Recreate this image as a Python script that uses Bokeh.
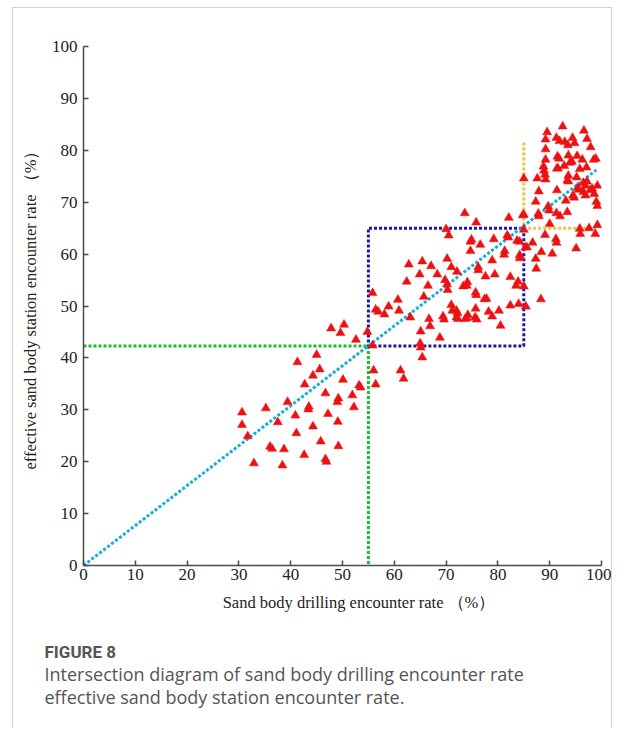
from bokeh.plotting import figure
from bokeh.models import Range1d, FixedTicker, Title
from bokeh.embed import file_html
from bokeh.resources import INLINE

# ---- data ----
drill_rate = [
    30.6, 30.6, 31.7, 32.9, 35.2, 36.0, 36.4, 37.5, 38.4, 38.7, 39.4, 40.9, 41.1, 41.3, 42.6, 42.7,
    43.4, 43.5, 44.3, 44.3, 45.0, 45.6, 45.8, 46.7, 46.7, 46.9, 47.2, 47.8, 49.0, 49.2, 49.1, 49.2,
    49.6, 50.1, 50.3, 51.9, 52.2, 52.6, 53.2, 53.5, 54.8, 55.8, 56.0, 56.4,
    55.8, 56.4, 56.9, 58.1, 58.9, 60.7, 60.9, 61.2, 61.8, 62.4, 62.8, 63.1, 64.9, 65.0, 65.1, 65.1,
    65.4, 65.4, 65.7, 66.5, 66.7, 66.9, 67.1, 68.3, 68.8, 69.4, 69.6, 70.0, 70.5, 69.8, 70.2, 70.2,
    70.3, 71.0, 71.0, 71.2, 72.0, 72.1, 72.2, 72.0, 72.3, 73.3, 73.6, 73.7, 74.1, 74.0, 74.2, 74.0,
    74.7, 74.9, 74.7, 75.7, 75.8, 75.7, 75.9, 75.6, 75.8, 76.2, 76.2, 76.6, 77.6, 77.4, 77.8, 78.2,
    78.9, 78.9, 79.2, 79.4, 80.2, 80.5, 81.3, 81.2, 81.8, 82.0, 82.1, 82.4, 82.4, 83.5, 83.7, 83.9,
    84.0, 84.2, 84.2, 84.2, 84.8, 85.0, 85.0, 85.3, 85.4, 85.6,
    85.0, 85.0, 86.7, 87.3, 87.3, 87.4, 87.6, 87.9, 87.8, 87.9, 88.3, 88.4, 88.8, 88.9, 89.1, 89.2,
    89.1, 89.2, 89.2, 89.2, 89.5, 89.7, 89.9, 90.0, 90.5, 91.2, 91.3, 91.3, 91.4, 91.4, 91.6, 91.3,
    91.9, 91.5, 91.8, 92.0, 92.5, 92.9, 93.1, 93.4, 93.6, 93.6, 93.4, 93.5, 93.6, 92.8, 93.9, 94.3,
    94.4, 94.5, 94.7, 94.8, 95.1, 95.2, 95.3, 95.4, 95.6, 95.8, 95.8, 95.9, 96.3, 96.5, 96.5, 96.6,
    96.9, 96.9, 97.1, 97.2, 97.2, 97.6, 97.9, 97.8, 98.2, 98.5, 98.6, 98.8, 99.0, 99.2, 99.2, 99.2,
    98.9,
]
station_rate = [
    29.5, 27.1, 24.9, 19.7, 30.3, 22.9, 22.5, 27.6, 19.3, 22.4, 31.5, 28.9, 25.5, 39.2, 21.3, 34.9,
    30.1, 30.6, 36.6, 26.8, 40.6, 37.8, 23.9, 33.2, 20.5, 20.0, 29.2, 45.7, 31.5, 32.2, 27.7, 23.0,
    44.8, 35.8, 46.4, 32.8, 30.5, 43.5, 34.7, 34.3, 45.0, 42.4, 37.6, 34.9,
    52.5, 49.3, 48.9, 48.4, 49.9, 51.2, 49.1, 37.6, 36.0, 54.7, 58.0, 47.8, 56.1, 42.8, 42.0, 45.1,
    58.6, 40.1, 51.8, 53.9, 47.5, 46.1, 57.7, 56.1, 43.9, 48.0, 47.4, 64.8, 63.6, 55.0, 54.2, 59.1,
    53.1, 57.5, 50.2, 49.1, 49.1, 56.6, 48.6, 47.8, 47.5, 53.8, 67.9, 47.5, 54.6, 53.9, 48.3, 47.7,
    62.4, 62.8, 60.6, 52.6, 52.1, 49.5, 47.4, 47.8, 66.1, 57.5, 56.9, 61.8, 55.7, 51.3, 51.4, 48.9,
    58.8, 48.0, 62.9, 56.1, 49.1, 46.2, 60.6, 59.9, 63.6, 63.2, 67.0, 55.6, 50.1, 53.9, 62.6, 54.7,
    50.4, 59.8, 59.2, 62.4, 67.5, 64.7, 53.8, 61.3, 49.9, 61.3,
    74.6, 67.6, 62.2, 70.1, 59.1, 57.2, 74.6, 72.1, 67.8, 67.3, 51.3, 60.4, 76.9, 76.1, 75.3, 74.4,
    63.7, 82.1, 80.2, 78.2, 83.5, 69.2, 68.4, 65.8, 60.1, 62.9, 62.2, 67.9, 72.3, 76.5, 76.5, 82.4,
    81.8, 78.8, 78.4, 67.3, 84.6, 81.6, 70.3, 74.2, 74.0, 75.1, 68.1, 81.0, 79.0, 77.0, 77.6, 77.8,
    82.4, 71.3, 70.9, 81.4, 61.1, 74.8, 78.9, 72.8, 72.4, 76.4, 64.9, 63.9, 78.2, 72.0, 73.7, 83.8,
    71.3, 73.2, 76.7, 82.2, 74.0, 65.0, 80.6, 72.3, 72.6, 78.2, 71.6, 63.9, 70.1, 69.3, 73.2, 65.6,
    78.4,
]

ticks = [0, 10, 20, 30, 40, 50, 60, 70, 80, 90, 100]

# reference lines
diag_x = [0, 99]
diag_y = [0, 76.2]
green_x = [0, 55, 55]
green_y = [42.3, 42.3, 0]
blue_x = [55, 85, 85, 55, 55]
blue_y = [42.3, 42.3, 65, 65, 42.3]
orange_x = [85, 85, 99]
orange_y = [81.5, 65, 65]

x_title = "Sand body drilling encounter rate \uff08%\uff09"
y_title = "effective sand body station encounter rate \uff08%\uff09"
caption_head = "FIGURE 8"
caption_lines = [
    "Intersection diagram of sand body drilling encounter rate",
    "effective sand body station encounter rate.",
]

serif = "Liberation Serif"

p = figure(width=600, height=721, output_backend="svg", toolbar_location=None,
           x_range=Range1d(0, 100), y_range=Range1d(0, 100),
           min_border_left=70, min_border_right=12, min_border_top=38, min_border_bottom=164)
p.styles = {"margin-left": "12px", "margin-top": "7px",
            "border-top": "1px solid #d4d4d4", "border-left": "1px solid #d4d4d4",
            "border-right": "1px solid #d4d4d4"}
p.outline_line_color = None
p.grid.visible = False
p.background_fill_color = "white"
p.border_fill_color = "white"

for ax in (p.xaxis[0], p.yaxis[0]):
    ax.ticker = FixedTicker(ticks=ticks)
    ax.minor_tick_line_color = None
    ax.major_tick_in = 5
    ax.major_tick_out = 0
    ax.axis_line_color = "#4a4a4a"
    ax.axis_line_width = 1.5
    ax.major_tick_line_color = "#4a4a4a"
    ax.major_tick_line_width = 1.5
    ax.major_label_text_font = serif
    ax.major_label_text_font_size = "17px"
    ax.major_label_text_color = "#222222"
    ax.axis_label_text_font = serif
    ax.axis_label_text_font_size = "16.5px"
    ax.axis_label_text_font_style = "normal"
    ax.axis_label_text_color = "#222222"

# the x title sits a little right of the frame centre in the original
p.xaxis.axis_label = "\u2002" * 4 + x_title
p.yaxis.axis_label = y_title
p.xaxis.major_label_standoff = 3
p.yaxis.major_label_standoff = 6
p.xaxis.axis_label_standoff = 10
p.yaxis.axis_label_standoff = 9

p.line(green_x, green_y, line_color="#19c02c", line_width=3, line_dash="3 2")
p.line(blue_x, blue_y, line_color="#1a1aa6", line_width=3, line_dash="3 2")
p.line(orange_x, orange_y, line_color="#f2c24a", line_width=3, line_dash="3 2")
p.line(diag_x, diag_y, line_color="#1aaed6", line_width=3, line_dash="3 2")

p.scatter(drill_rate, station_rate, marker="triangle", size=9,
          fill_color="#ee1111", line_color="#ee1111", line_width=0.5)

# caption: titles stacked in the panel below the x axis
cap_offset = -39
p.add_layout(Title(text=" ", text_font_size="1px", standoff=24), "below")
p.add_layout(Title(text=caption_head, align="left", offset=cap_offset, standoff=0,
                   vertical_align="top", text_font="Roboto", text_font_size="17px",
                   text_font_style="bold", text_color="#555555"), "below")
for line in caption_lines:
    p.add_layout(Title(text=line, align="left", offset=cap_offset, standoff=-3,
                       vertical_align="top", text_font="Open Sans", text_font_size="18px",
                       text_font_style="normal", text_color="#555555"), "below")

open("out.html", "w").write(file_html(p, INLINE))
